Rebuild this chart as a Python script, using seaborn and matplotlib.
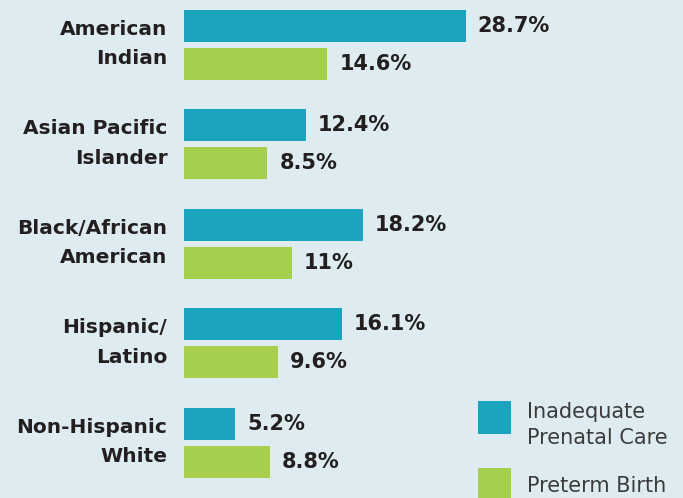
import matplotlib
matplotlib.use("Agg")
import matplotlib.pyplot as plt
import matplotlib.transforms as mtransforms
import pandas as pd
import seaborn as sns

# values
groups = ["American\nIndian", "Asian Pacific\nIslander", "Black/African\nAmerican",
          "Hispanic/\nLatino", "Non-Hispanic\nWhite"]
prenatal_care = [28.7, 12.4, 18.2, 16.1, 5.2]
preterm_birth = [14.6, 8.5, 11.0, 9.6, 8.8]
value_labels_care = ["28.7%", "12.4%", "18.2%", "16.1%", "5.2%"]
value_labels_birth = ["14.6%", "8.5%", "11%", "9.6%", "8.8%"]
series = ["Inadequate\nPrenatal Care", "Preterm Birth"]

bg = "#deecf1"
teal = "#1aa4bd"
green = "#a7cf4e"
text_dark = "#231f20"

df = pd.DataFrame({
    "group": groups * 2,
    "value": prenatal_care + preterm_birth,
    "series": [series[0]] * len(groups) + [series[1]] * len(groups),
})

sns.set_style("white")
plt.rcParams["font.family"] = ["DejaVu Sans"]

fig = plt.figure(figsize=(6.83, 4.98), dpi=100, facecolor=bg)
ax = fig.add_axes([184 / 683, 0, 499 / 683, 1])
ax.set_facecolor(bg)

sns.barplot(data=df, y="group", x="value", hue="series", orient="h",
            palette=[teal, green], width=0.764, gap=0.158, ax=ax,
            saturation=1, linewidth=0, legend=True)

for cont, labs in zip(ax.containers, [value_labels_care, value_labels_birth]):
    ax.bar_label(cont, labels=labs, padding=8.5, fontsize=15, fontweight="bold",
                 color=text_dark)

ax.set_xlim(0, 50.8)
ax.set_ylim(4.553, -0.452)
ax.set_xlabel("")
ax.set_ylabel("")
ax.set_xticks([])
ax.tick_params(axis="y", length=0, pad=12)
# lift the two-line group labels a little, as in the original
lift = mtransforms.ScaledTranslation(0, 6 / 72, fig.dpi_scale_trans)
for lab in ax.get_yticklabels():
    lab.set_fontsize(14.5)
    lab.set_fontweight("bold")
    lab.set_color(text_dark)
    lab.set_linespacing(1.72)
    lab.set_transform(lab.get_transform() + lift)
sns.despine(ax=ax, left=True, bottom=True)

handles, labels = ax.get_legend_handles_labels()
leg = ax.legend(handles, labels, loc="upper left", bbox_to_anchor=(478 / 683, 1 - 402 / 498),
                bbox_transform=fig.transFigure, frameon=False, fontsize=15,
                handlelength=1.59, handleheight=2.06, handletextpad=0.75,
                labelspacing=1.0, labelcolor="#3b3b3b", borderpad=0, borderaxespad=0)
for t in leg.get_texts():
    t.set_linespacing(1.35)
# the square of the two-line entry sits higher than the text centre
sq = leg.legend_handles[0]
sq.set_y(sq.get_y() + 6.5)

fig.savefig("out.png", dpi=100, facecolor=bg)
